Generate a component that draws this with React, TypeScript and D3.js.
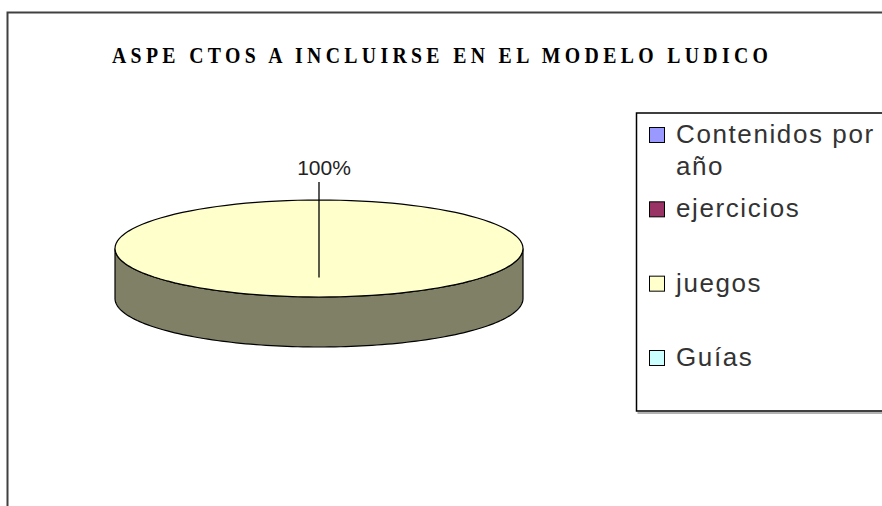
import React from "react";
import * as d3 from "d3";

const categories = ["Contenidos por año", "ejercicios", "juegos", "Guías"];
const values = [0, 0, 100, 0];
const legendLines = [["Contenidos por", "año"], ["ejercicios"], ["juegos"], ["Guías"]];
const colors = ["#9999FF", "#993366", "#FFFFCC", "#CCFFFF"];
const sideColors = ["#666699", "#66223f", "#808066", "#889999"];
const title = "ASPE CTOS A INCLUIRSE EN EL MODELO LUDICO";

const W = 882;
const H = 506;

export default function App() {
  const cx = 319;
  const cy = 248.5;
  const rx = 204;
  const ry = 48.5;
  const depth = 50;

  const pie = d3.pie<number>().value((d) => d).sort(null);
  const arcs = pie(values);
  const total = d3.sum(values);

  const pt = (a: number, dy = 0): [number, number] => {
    const t = a - Math.PI / 2;
    return [cx + rx * Math.cos(t), cy + ry * Math.sin(t) + dy];
  };

  const sampleAngles = (a0: number, a1: number) =>
    d3.range(0, 121).map((i) => a0 + ((a1 - a0) * i) / 120);

  const line = d3.line<[number, number]>();

  const topPath = (a0: number, a1: number) => {
    const pts = sampleAngles(a0, a1).map((a) => pt(a));
    if (a1 - a0 >= 2 * Math.PI - 1e-6) return line(pts) + "Z";
    return line([[cx, cy], ...pts]) + "Z";
  };

  const sidePath = (a0: number, a1: number) => {
    const s = Math.max(a0, Math.PI / 2);
    const e = Math.min(a1, (3 * Math.PI) / 2);
    if (e <= s) return null;
    const topPts = sampleAngles(s, e).map((a) => pt(a));
    const botPts = sampleAngles(s, e).map((a) => pt(a, depth)).reverse();
    return line([...topPts, ...botPts]) + "Z";
  };

  const pct = d3.format(".0%");

  const legendX = 636.5;
  const legendTop = 113;
  const legendBottom = 411;
  const itemY = d3.scalePoint<number>().domain(d3.range(categories.length)).range([143, 366]);
  const titleScale = 0.86;

  return (
    <svg
      width={W}
      height={H}
      style={{ position: "absolute", left: 0, top: 0, background: "#fff" }}
    >
      <rect x={0} y={0} width={W} height={H} fill="#fff" />
      <path d={`M7.5,${H + 10}V12.5H${W + 10}`} fill="none" stroke="#404040" strokeWidth={2} />

      <g transform={`translate(112,63) scale(${titleScale},1)`}>
        <text
          x={0}
          y={0}
          textLength={656 / titleScale}
          lengthAdjust="spacing"
          fontFamily="'Liberation Serif', 'Times New Roman', serif"
          fontWeight="bold"
          fontSize={23}
          fill="#000"
        >
          {title}
        </text>
      </g>

      {arcs.map((a, i) => {
        if (a.value === 0) return null;
        const d = sidePath(a.startAngle, a.endAngle);
        return d ? (
          <path key={"s" + i} d={d} fill={sideColors[i]} stroke="#000" strokeWidth={1.2} />
        ) : null;
      })}
      {arcs.map((a, i) =>
        a.value === 0 ? null : (
          <path key={"t" + i} d={topPath(a.startAngle, a.endAngle)} fill={colors[i]} stroke="#000" strokeWidth={1.2} />
        )
      )}
      {arcs.map((a, i) => {
        if (a.value === 0) return null;
        const mid = (a.startAngle + a.endAngle) / 2;
        const t = mid - Math.PI / 2;
        const ex = cx + 0.6 * rx * Math.cos(t);
        const ey = cy + 0.6 * ry * Math.sin(t);
        return (
          <g key={"l" + i}>
            <line x1={ex} y1={182} x2={ex} y2={ey} stroke="#000" strokeWidth={1.3} />
            <text
              x={ex + 5}
              y={175}
              textAnchor="middle"
              fontFamily="'Liberation Sans', Arial, sans-serif"
              fontSize={21}
              fill="#222"
            >
              {pct(a.value / total)}
            </text>
          </g>
        );
      })}

      <path
        d={`M${legendX + 1},${legendBottom + 2}H${W + 10}`}
        stroke="#999"
        strokeWidth={1.5}
      />
      <rect
        x={legendX}
        y={legendTop}
        width={W + 10 - legendX}
        height={legendBottom - legendTop}
        fill="#fff"
        stroke="#000"
        strokeWidth={1.5}
      />
      {categories.map((c, i) => {
        const by = itemY(i) as number;
        return (
          <g key={"g" + i}>
            <rect x={649.5} y={by - 15.5} width={15} height={15} fill={colors[i]} stroke="#000" strokeWidth={1} />
            <text
              x={676}
              y={by}
              fontFamily="'Liberation Sans', Arial, sans-serif"
              fontSize={26}
              letterSpacing={1.6}
              fill="#333"
            >
              {legendLines[i].map((l, j) => (
                <tspan key={j} x={676} dy={j === 0 ? 0 : 32}>
                  {l}
                </tspan>
              ))}
            </text>
          </g>
        );
      })}
    </svg>
  );
}
